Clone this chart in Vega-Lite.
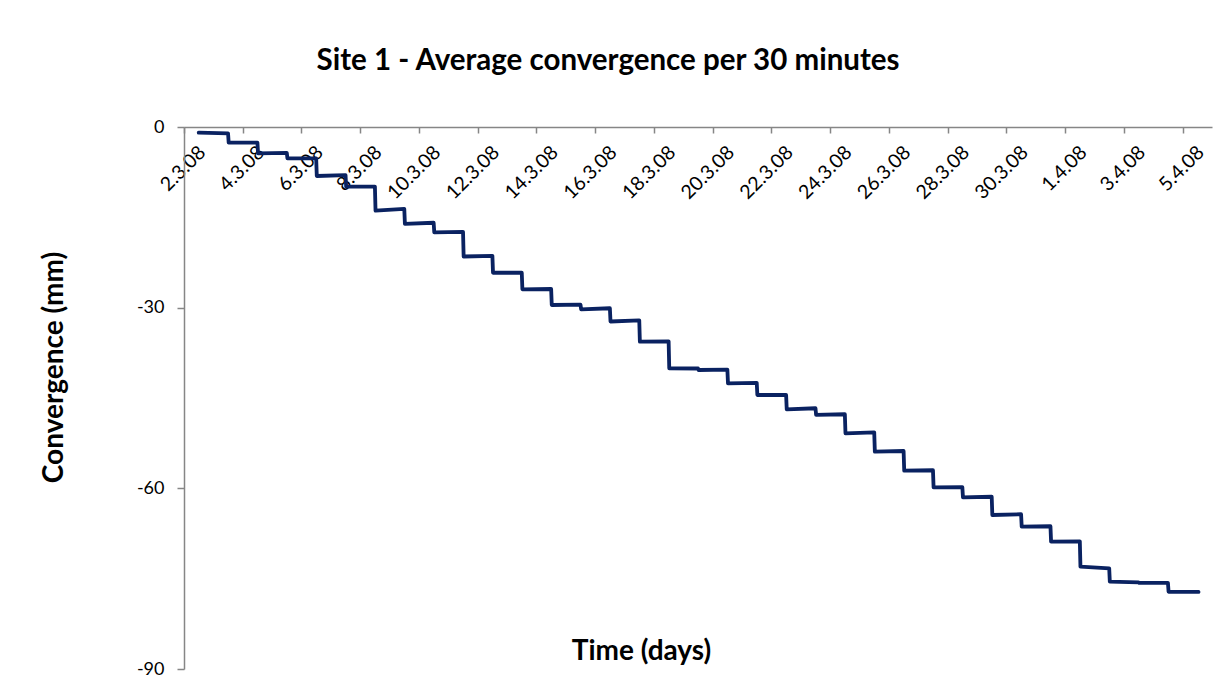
{
  "$schema": "https://vega.github.io/schema/vega-lite/v6.json",
  "width": 1028,
  "height": 542,
  "autosize": {"type": "none"},
  "padding": {"left": 184, "top": 127, "right": 18, "bottom": 10},
  "background": "white",
  "title": {
    "text": "Site 1 - Average convergence per 30 minutes",
    "font": "Lato",
    "fontSize": 29.5,
    "fontWeight": "bold",
    "color": "#000000",
    "anchor": "middle",
    "dx": -90,
    "baseline": "alphabetic",
    "offset": 19
  },
  "data": {
    "values": [
      {"t": "2008-03-02T12:00:00Z", "v": -0.95},
      {"t": "2008-03-03T12:00:00Z", "v": -1.05},
      {"t": "2008-03-03T12:30:00Z", "v": -2.6},
      {"t": "2008-03-04T12:00:00Z", "v": -2.6},
      {"t": "2008-03-04T12:30:00Z", "v": -4.37},
      {"t": "2008-03-05T12:00:00Z", "v": -4.3},
      {"t": "2008-03-05T12:30:00Z", "v": -5.2},
      {"t": "2008-03-06T12:00:00Z", "v": -5.2},
      {"t": "2008-03-06T12:30:00Z", "v": -8.14},
      {"t": "2008-03-07T12:00:00Z", "v": -8.0},
      {"t": "2008-03-07T12:30:00Z", "v": -9.9},
      {"t": "2008-03-08T12:00:00Z", "v": -9.9},
      {"t": "2008-03-08T12:30:00Z", "v": -13.9},
      {"t": "2008-03-09T12:00:00Z", "v": -13.6},
      {"t": "2008-03-09T12:30:00Z", "v": -16.1},
      {"t": "2008-03-10T12:00:00Z", "v": -15.9},
      {"t": "2008-03-10T12:30:00Z", "v": -17.5},
      {"t": "2008-03-11T12:00:00Z", "v": -17.4},
      {"t": "2008-03-11T12:30:00Z", "v": -21.5},
      {"t": "2008-03-12T12:00:00Z", "v": -21.4},
      {"t": "2008-03-12T12:30:00Z", "v": -24.2},
      {"t": "2008-03-13T12:00:00Z", "v": -24.2},
      {"t": "2008-03-13T12:30:00Z", "v": -26.95},
      {"t": "2008-03-14T12:00:00Z", "v": -26.9},
      {"t": "2008-03-14T12:30:00Z", "v": -29.56},
      {"t": "2008-03-15T12:00:00Z", "v": -29.5},
      {"t": "2008-03-15T12:30:00Z", "v": -30.27},
      {"t": "2008-03-16T12:00:00Z", "v": -30.1},
      {"t": "2008-03-16T12:30:00Z", "v": -32.3},
      {"t": "2008-03-17T12:00:00Z", "v": -32.1},
      {"t": "2008-03-17T12:30:00Z", "v": -35.65},
      {"t": "2008-03-18T12:00:00Z", "v": -35.6},
      {"t": "2008-03-18T12:30:00Z", "v": -40.07},
      {"t": "2008-03-19T12:00:00Z", "v": -40.1},
      {"t": "2008-03-19T12:30:00Z", "v": -40.35},
      {"t": "2008-03-20T12:00:00Z", "v": -40.3},
      {"t": "2008-03-20T12:30:00Z", "v": -42.56},
      {"t": "2008-03-21T12:00:00Z", "v": -42.5},
      {"t": "2008-03-21T12:30:00Z", "v": -44.5},
      {"t": "2008-03-22T12:00:00Z", "v": -44.5},
      {"t": "2008-03-22T12:30:00Z", "v": -46.88},
      {"t": "2008-03-23T12:00:00Z", "v": -46.7},
      {"t": "2008-03-23T12:30:00Z", "v": -47.8},
      {"t": "2008-03-24T12:00:00Z", "v": -47.7},
      {"t": "2008-03-24T12:30:00Z", "v": -50.86},
      {"t": "2008-03-25T12:00:00Z", "v": -50.7},
      {"t": "2008-03-25T12:30:00Z", "v": -53.9},
      {"t": "2008-03-26T12:00:00Z", "v": -53.8},
      {"t": "2008-03-26T12:30:00Z", "v": -57.07},
      {"t": "2008-03-27T12:00:00Z", "v": -57.0},
      {"t": "2008-03-27T12:30:00Z", "v": -59.83},
      {"t": "2008-03-28T12:00:00Z", "v": -59.8},
      {"t": "2008-03-28T12:30:00Z", "v": -61.5},
      {"t": "2008-03-29T12:00:00Z", "v": -61.4},
      {"t": "2008-03-29T12:30:00Z", "v": -64.43},
      {"t": "2008-03-30T12:00:00Z", "v": -64.3},
      {"t": "2008-03-30T12:30:00Z", "v": -66.37},
      {"t": "2008-03-31T12:00:00Z", "v": -66.3},
      {"t": "2008-03-31T12:30:00Z", "v": -68.86},
      {"t": "2008-04-01T12:00:00Z", "v": -68.8},
      {"t": "2008-04-01T12:30:00Z", "v": -73.0},
      {"t": "2008-04-02T12:00:00Z", "v": -73.3},
      {"t": "2008-04-02T12:30:00Z", "v": -75.5},
      {"t": "2008-04-03T12:00:00Z", "v": -75.6},
      {"t": "2008-04-03T12:30:00Z", "v": -75.7},
      {"t": "2008-04-04T12:00:00Z", "v": -75.7},
      {"t": "2008-04-04T12:30:00Z", "v": -77.17},
      {"t": "2008-04-05T13:00:00Z", "v": -77.2}
    ]
  },
  "mark": {"type": "line", "color": "#0a2261", "strokeWidth": 3.8, "strokeJoin": "round", "strokeCap": "round", "clip": false},
  "encoding": {
    "x": {
      "field": "t",
      "type": "temporal",
      "scale": {
        "type": "utc",
        "domain": [
          {"year": 2008, "month": 3, "date": 2, "utc": true},
          {"year": 2008, "month": 4, "date": 6, "utc": true}
        ]
      },
      "axis": {
        "orient": "bottom",
        "offset": -542,
        "title": "Time (days)",
        "titleFont": "Lato",
        "titleFontSize": 28,
        "titleFontWeight": "bold",
        "titleColor": "#000000",
        "titleX": 457,
        "titleY": 532,
        "titleAlign": "center",
        "titleBaseline": "alphabetic",
        "titleAnchor": null,
        "labelExpr": "utcFormat(datum.value, '%-d.%-m.%y')",
        "values": [
          {"year": 2008, "month": 3, "date": 2, "utc": true},
          {"year": 2008, "month": 3, "date": 4, "utc": true},
          {"year": 2008, "month": 3, "date": 6, "utc": true},
          {"year": 2008, "month": 3, "date": 8, "utc": true},
          {"year": 2008, "month": 3, "date": 10, "utc": true},
          {"year": 2008, "month": 3, "date": 12, "utc": true},
          {"year": 2008, "month": 3, "date": 14, "utc": true},
          {"year": 2008, "month": 3, "date": 16, "utc": true},
          {"year": 2008, "month": 3, "date": 18, "utc": true},
          {"year": 2008, "month": 3, "date": 20, "utc": true},
          {"year": 2008, "month": 3, "date": 22, "utc": true},
          {"year": 2008, "month": 3, "date": 24, "utc": true},
          {"year": 2008, "month": 3, "date": 26, "utc": true},
          {"year": 2008, "month": 3, "date": 28, "utc": true},
          {"year": 2008, "month": 3, "date": 30, "utc": true},
          {"year": 2008, "month": 4, "date": 1, "utc": true},
          {"year": 2008, "month": 4, "date": 3, "utc": true},
          {"year": 2008, "month": 4, "date": 5, "utc": true}
        ],
        "labelAngle": -45,
        "labelAlign": "right",
        "labelBaseline": "middle",
        "labelOffset": 18,
        "labelPadding": 16,
        "labelFont": "Lato",
        "labelFontSize": 19.5,
        "labelColor": "#000000",
        "labelOverlap": false,
        "labelFlush": false,
        "labelBound": false,
        "tickSize": 6,
        "tickColor": "#868686",
        "tickWidth": 1.5,
        "domainColor": "#868686",
        "domainWidth": 1.5,
        "grid": false
      }
    },
    "y": {
      "field": "v",
      "type": "quantitative",
      "scale": {"domain": [-90, 0], "nice": false, "zero": false},
      "axis": {
        "values": [0, -30, -60, -90],
        "labelExpr": "datum.value == 0 ? '0' : '-' + abs(datum.value)",
        "title": "Convergence (mm)",
        "titleFont": "Lato",
        "titleFontSize": 28,
        "titleFontWeight": "bold",
        "titleColor": "#000000",
        "titleAngle": -90,
        "titleX": -122,
        "titleY": 240,
        "titleAlign": "center",
        "titleBaseline": "alphabetic",
        "titleAnchor": null,
        "labelFont": "Lato",
        "labelFontSize": 18,
        "labelColor": "#000000",
        "labelPadding": 13,
        "labelFlush": false,
        "tickSize": 7,
        "tickColor": "#868686",
        "tickWidth": 1.5,
        "domainColor": "#868686",
        "domainWidth": 1.5,
        "grid": false
      }
    }
  },
  "config": {"view": {"stroke": null}}
}
